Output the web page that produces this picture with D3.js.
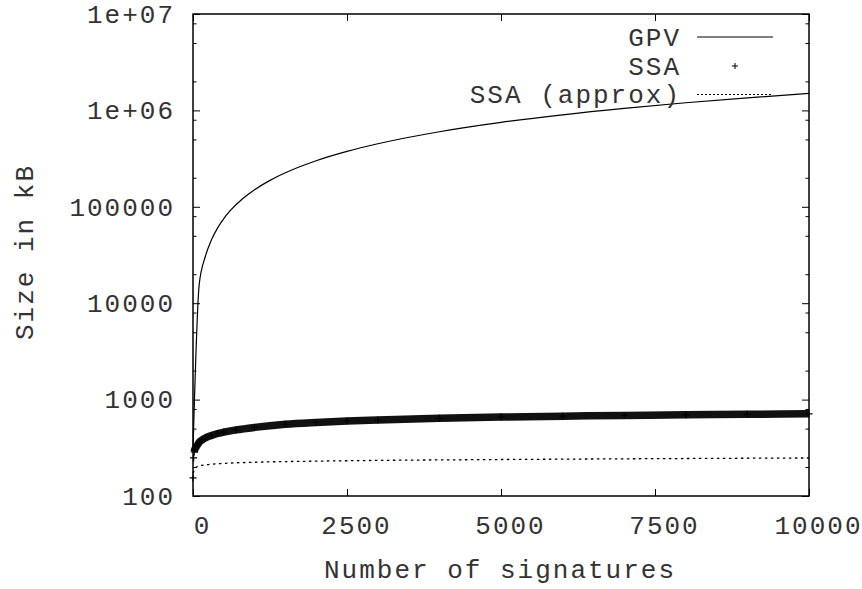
<!DOCTYPE html>
<html>
<head>
<meta charset="utf-8">
<script src="https://cdn.jsdelivr.net/npm/d3@7"></script>
<style>
  body { margin: 0; background: #fff; }
  text { font-family: "Liberation Mono", "DejaVu Sans Mono", monospace; }
</style>
</head>
<body>
<div id="wrapper"></div>
<script>
// GPV size (kB) against number of signatures
const gpvN = [0, 100, 200, 300, 400, 500, 600, 800, 1000, 1250, 1500, 2000, 2500, 3000, 4000, 5000, 6000, 7000, 8000, 9000, 10000];
const gpvSize = [300, 15500, 30500, 45500, 60500, 75500, 90500, 120500, 150500, 188000, 225500, 300500, 375500, 450500, 600500, 750500, 900500, 1050500, 1200500, 1350500, 1500500];

// SSA measured points
const ssaN = [0, 10, 20, 30, 50, 75, 100, 150, 200, 300, 400, 500, 700, 1000, 1500, 2000, 2500, 3000, 4000, 5000, 6000, 7000, 8000, 9000, 10000];
const ssaSize = [154, 248, 286, 305, 322, 340, 360, 382, 400, 425, 445, 460, 485, 515, 555, 580, 600, 615, 640, 660, 673, 685, 695, 703, 712];

// SSA approximation
const approxN = [0, 50, 100, 250, 500, 1000, 2000, 3000, 5000, 7500, 10000];
const approxSize = [172, 198, 205, 212, 218, 224, 230, 234, 239, 244, 248];

const xTicks = [0, 2500, 5000, 7500, 10000];
const yTicks = [100, 1000, 10000, 100000, 1000000, 10000000];
const yTickLabels = ["100", "1000", "10000", "100000", "1e+06", "1e+07"];
const yMinor = [200, 500, 800, 2000, 5000, 8000, 20000, 50000, 80000,
                200000, 500000, 800000, 2000000, 5000000, 8000000];

const legendNames = ["GPV", "SSA", "SSA (approx)"];

const dimensions = {
    width: 862,
    height: 589,
    margin: { top: 14, right: 53, bottom: 93, left: 193 }
};
dimensions.boundedWidth = dimensions.width - dimensions.margin.left - dimensions.margin.right;
dimensions.boundedHeight = dimensions.height - dimensions.margin.top - dimensions.margin.bottom;

const wrapper = d3.select("#wrapper")
    .append("svg")
    .attr("width", dimensions.width)
    .attr("height", dimensions.height);

wrapper.append("rect")
    .attr("width", dimensions.width)
    .attr("height", dimensions.height)
    .attr("fill", "#fff");

const bounds = wrapper.append("g")
    .attr("transform", `translate(${dimensions.margin.left},${dimensions.margin.top})`);

const xScale = d3.scaleLinear()
    .domain([0, 10000])
    .range([0, dimensions.boundedWidth]);

const yScale = d3.scaleLog()
    .domain([100, 10000000])
    .range([dimensions.boundedHeight, 0]);

const fontSize = 26;
const spacing = "2px";
const labelColor = "#333";

function styleAxis(g) {
    g.select(".domain").remove();
    g.selectAll(".tick line").attr("stroke", "#000").attr("stroke-width", 1);
    g.selectAll(".tick text")
        .attr("fill", labelColor)
        .style("font-size", fontSize + "px")
        .style("letter-spacing", spacing);
}

// left axis, major + minor
bounds.append("g")
    .call(d3.axisLeft(yScale).tickValues(yTicks)
        .tickFormat((d, i) => yTickLabels[i]).tickSize(-7).tickPadding(18))
    .call(styleAxis)
    .attr("font-family", null);
bounds.append("g")
    .call(d3.axisLeft(yScale).tickValues(yMinor).tickFormat("").tickSize(-3.5))
    .call(styleAxis);

// right mirror
bounds.append("g")
    .attr("transform", `translate(${dimensions.boundedWidth},0)`)
    .call(d3.axisRight(yScale).tickValues(yTicks).tickFormat("").tickSize(-7))
    .call(styleAxis);
bounds.append("g")
    .attr("transform", `translate(${dimensions.boundedWidth},0)`)
    .call(d3.axisRight(yScale).tickValues(yMinor).tickFormat("").tickSize(-3.5))
    .call(styleAxis);

// bottom + top
bounds.append("g")
    .attr("transform", `translate(0,${dimensions.boundedHeight})`)
    .call(d3.axisBottom(xScale).tickValues(xTicks).tickFormat(d3.format("d"))
        .tickSize(-7).tickPadding(22))
    .call(styleAxis)
    .attr("font-family", null)
    .selectAll(".tick text").attr("dx", 9).attr("dy", "0.62em");
bounds.append("g")
    .call(d3.axisTop(xScale).tickValues(xTicks).tickFormat("").tickSize(-7))
    .call(styleAxis);

// frame
bounds.append("rect")
    .attr("width", dimensions.boundedWidth)
    .attr("height", dimensions.boundedHeight)
    .attr("fill", "none")
    .attr("stroke", "#000")
    .attr("stroke-width", 1.5);

const gpvData = gpvN.map((n, i) => ({ n, v: gpvSize[i] }));
const ssaData = ssaN.map((n, i) => ({ n, v: ssaSize[i] }));
const approxData = approxN.map((n, i) => ({ n, v: approxSize[i] }));

const lineGenerator = d3.line()
    .x(d => xScale(d.n))
    .y(d => yScale(d.v))
    .curve(d3.curveMonotoneX);

// SSA points are so dense they merge into a band
bounds.append("path")
    .attr("d", lineGenerator(ssaData.slice(2)))
    .attr("fill", "none")
    .attr("stroke", "#111")
    .attr("stroke-width", 7.5);

const plus = 3.5;
bounds.append("g")
    .selectAll("path")
    .data(ssaData)
    .join("path")
    .attr("d", d => {
        const x = xScale(d.n), y = yScale(d.v);
        return `M${x - plus},${y}H${x + plus}M${x},${y - plus}V${y + plus}`;
    })
    .attr("stroke", "#000")
    .attr("stroke-width", 1.2);

bounds.append("path")
    .attr("d", lineGenerator(approxData))
    .attr("fill", "none")
    .attr("stroke", "#000")
    .attr("stroke-width", 1.3)
    .attr("stroke-dasharray", "2.5,3.5");

bounds.append("path")
    .attr("d", lineGenerator(gpvData))
    .attr("fill", "none")
    .attr("stroke", "#000")
    .attr("stroke-width", 1.2);

// legend
const legend = wrapper.append("g");
const legendY = [37, 66, 94.5];
legend.selectAll("text")
    .data(legendNames)
    .join("text")
    .attr("x", 681)
    .attr("y", (d, i) => legendY[i])
    .attr("dy", "0.33em")
    .attr("text-anchor", "end")
    .attr("fill", labelColor)
    .style("font-size", fontSize + "px")
    .style("letter-spacing", spacing)
    .text(d => d);

legend.append("line")
    .attr("x1", 697).attr("x2", 773)
    .attr("y1", legendY[0]).attr("y2", legendY[0])
    .attr("stroke", "#000").attr("stroke-width", 1.2);
legend.append("path")
    .attr("d", `M${735 - 3},${legendY[1]}H${735 + 3}M735,${legendY[1] - 3}V${legendY[1] + 3}`)
    .attr("stroke", "#000").attr("stroke-width", 1);
legend.append("line")
    .attr("x1", 697).attr("x2", 773)
    .attr("y1", legendY[2]).attr("y2", legendY[2])
    .attr("stroke", "#000").attr("stroke-width", 1.2)
    .attr("stroke-dasharray", "2,2");

// axis titles
wrapper.append("text")
    .attr("x", 500)
    .attr("y", 578)
    .attr("text-anchor", "middle")
    .attr("fill", labelColor)
    .style("font-size", fontSize + "px")
    .style("letter-spacing", spacing)
    .text("Number of signatures");

wrapper.append("text")
    .attr("transform", "translate(33,252) rotate(-90)")
    .attr("text-anchor", "middle")
    .attr("fill", labelColor)
    .style("font-size", fontSize + "px")
    .style("letter-spacing", spacing)
    .text("Size in kB");
</script>
</body>
</html>
